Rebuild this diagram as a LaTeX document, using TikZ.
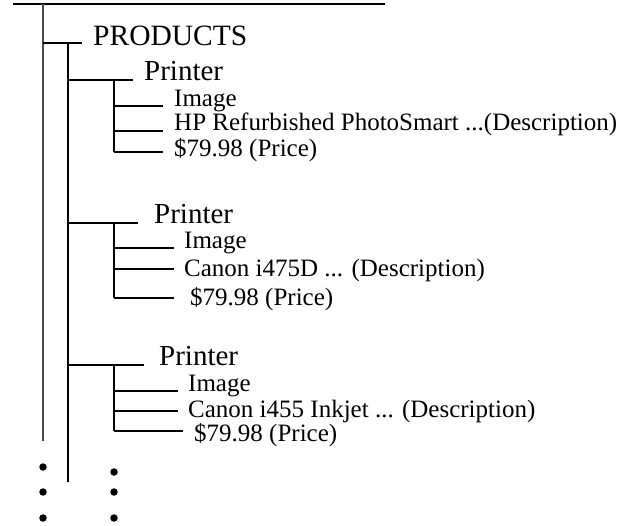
\documentclass[tikz,border=0pt]{standalone}
\usepackage{fontspec}
\setmainfont{Liberation Serif}
\usetikzlibrary{calc}
\begin{document}
\begin{tikzpicture}[x=1pt,y=-1pt,
  lvl/.style={anchor=base west,inner sep=0pt,text height=0.68*#1 pt,text depth=0.16*#1 pt,font=\fontsize{#1}{#1}\selectfont},
  br/.style={line width=1.1pt,color=black},
  dot/.style={circle,fill=black,inner sep=0pt,minimum size=7.5pt}]
  \useasboundingbox (0,0) rectangle (626,525);
  % trunk lines
  \coordinate (top0) at (13,4);
  \coordinate (top1) at (385,4);
  \coordinate (t1) at (43,4);
  \coordinate (t1e) at (43,441);
  \coordinate (t2) at (68,43);
  \coordinate (t2e) at (68,482);
  \coordinate (b) at (114,0);
  % labels
  \node[lvl=29.5] (prod) at (93,45) {PRODUCTS};
  \node[lvl=29] (pr1) at (144,80) {Printer};
  \node[lvl=25] (img1) at (174,106) {Image};
  \node[lvl=25] (desc1) at (174,130) {HP Refurbished PhotoSmart ...(Description)};
  \node[lvl=25] (price1) at (174,156) {\$79.98 (Price)};
  \node[lvl=29] (pr2) at (154,223) {Printer};
  \node[lvl=25] (img2) at (184,248) {Image};
  \node[lvl=25] (desc2) at (184,276) {Canon i475D ... (Description)};
  \node[lvl=25] (price2) at (190,305) {\$79.98 (Price)};
  \node[lvl=29] (pr3) at (159,365) {Printer};
  \node[lvl=25] (img3) at (188,391) {Image};
  \node[lvl=25] (desc3) at (188,417) {Canon i455 Inkjet ... (Description)};
  \node[lvl=25] (price3) at (194,441) {\$79.98 (Price)};
  % branch ends
  \coordinate (prode) at (82,43);
  \coordinate (pr1e) at (133,80);
  \coordinate (img1e) at (163,106);
  \coordinate (desc1e) at (163,131);
  \coordinate (price1e) at (163,152);
  \coordinate (pr2e) at (138,223);
  \coordinate (img2e) at (174,248);
  \coordinate (desc2e) at (174,269);
  \coordinate (price2e) at (174,298);
  \coordinate (pr3e) at (144,365);
  \coordinate (img3e) at (178,391);
  \coordinate (desc3e) at (178,411);
  \coordinate (price3e) at (183,431);
  \draw[br,line width=1.6pt] (top0) -- (top1);
  \draw[br,color=black!70] (t1) -- (t1e);
  \draw[br] (t2) -- (t2e);
  \draw[br] (t1 |- prode) -- (prode);
  \foreach \p in {pr1,pr2,pr3} \draw[br] (t2 |- \p e) -- (\p e);
  \foreach \p/\q in {pr1/price1,pr2/price2,pr3/price3} \draw[br] (b |- \p e) -- (b |- \q e);
  \foreach \n in {img1,desc1,price1,img2,desc2,price2,img3,desc3,price3}
    \draw[br] (b |- \n e) -- (\n e);
  % more to come
  \foreach \y [count=\i] in {467,492,518} \node[dot] (dl\i) at (43,\y) {};
  \foreach \y [count=\i] in {472,492,518} \node[dot] (dr\i) at (114,\y) {};
\end{tikzpicture}
\end{document}
